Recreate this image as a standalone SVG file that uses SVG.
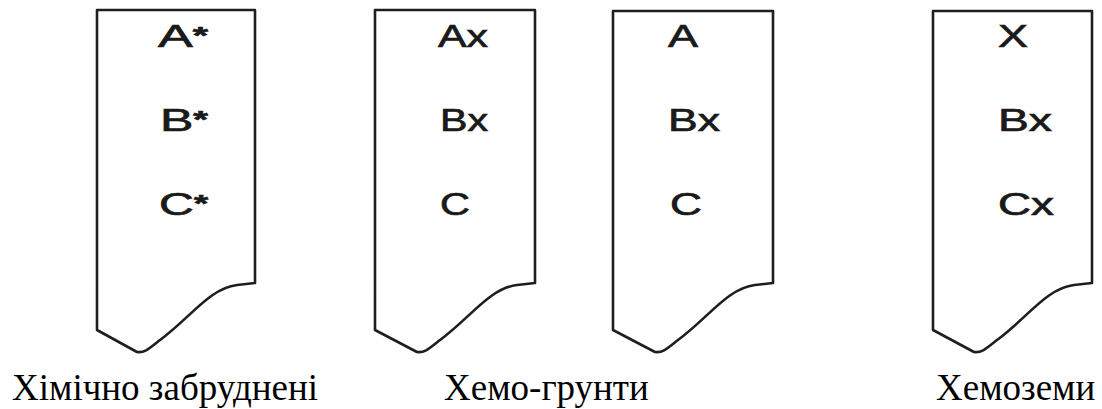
<svg xmlns="http://www.w3.org/2000/svg" width="1102" height="409" viewBox="0 0 1102 409">
<style>
.box{fill:#fff;stroke:#1e1e1e;stroke-width:2.6;stroke-linejoin:round}
.hz{font-family:"Liberation Sans",Arial,sans-serif;font-size:32px;fill:#1a1a1a;stroke:#1a1a1a;stroke-width:0.7}
.st{font-size:24px;font-weight:bold}
.lbl{font-family:"Liberation Serif","Times New Roman",serif;font-size:37px;fill:#000}
</style>
<rect width="1102" height="409" fill="#fff"/>
<g id="col1">
<path class="box" d="M97 10 H255 V283 L237 285 C210 288 190 318 160 340 C150 348 145 353 137 352 L97 330 Z"/>
<text class="hz" x="158" y="47" textLength="50" lengthAdjust="spacingAndGlyphs">A<tspan class="st" dy="-3">*</tspan></text>
<text class="hz" x="160" y="131" textLength="48" lengthAdjust="spacingAndGlyphs">B<tspan class="st" dy="-3">*</tspan></text>
<text class="hz" x="159" y="215" textLength="49" lengthAdjust="spacingAndGlyphs">C<tspan class="st" dy="-3">*</tspan></text>
</g>
<g id="col2">
<path class="box" d="M375 10 H535 V283 L517 285 C490 288 470 318 440 340 C430 348 425 353 417 352 L375 330 Z"/>
<text class="hz" x="438" y="47" textLength="50" lengthAdjust="spacingAndGlyphs">Ax</text>
<text class="hz" x="440" y="131" textLength="48" lengthAdjust="spacingAndGlyphs">Bx</text>
<text class="hz" x="440" y="215" textLength="30" lengthAdjust="spacingAndGlyphs">C</text>
</g>
<g id="col3">
<path class="box" d="M613 11 H773 V283 L755 285 C728 288 708 318 678 340 C668 348 663 353 655 352 L613 330 Z"/>
<text class="hz" x="668" y="47" textLength="30" lengthAdjust="spacingAndGlyphs">A</text>
<text class="hz" x="668" y="131" textLength="52" lengthAdjust="spacingAndGlyphs">Bx</text>
<text class="hz" x="670" y="215" textLength="32" lengthAdjust="spacingAndGlyphs">C</text>
</g>
<g id="col4">
<path class="box" d="M933 11 H1092 V283 L1074 285 C1047 288 1027 318 997 340 C987 348 982 353 974 352 L933 330 Z"/>
<text class="hz" x="998" y="47" textLength="30" lengthAdjust="spacingAndGlyphs">X</text>
<text class="hz" x="998" y="131" textLength="54" lengthAdjust="spacingAndGlyphs">Bx</text>
<text class="hz" x="998" y="215" textLength="56" lengthAdjust="spacingAndGlyphs">Cx</text>
</g>
<g id="labels">
<text class="lbl" x="12" y="400">Хімічно забруднені</text>
<text class="lbl" x="444" y="400">Хемо-грунти</text>
<text class="lbl" x="936" y="400">Хемоземи</text>
</g>
<g id="connectors"/>
</svg>
